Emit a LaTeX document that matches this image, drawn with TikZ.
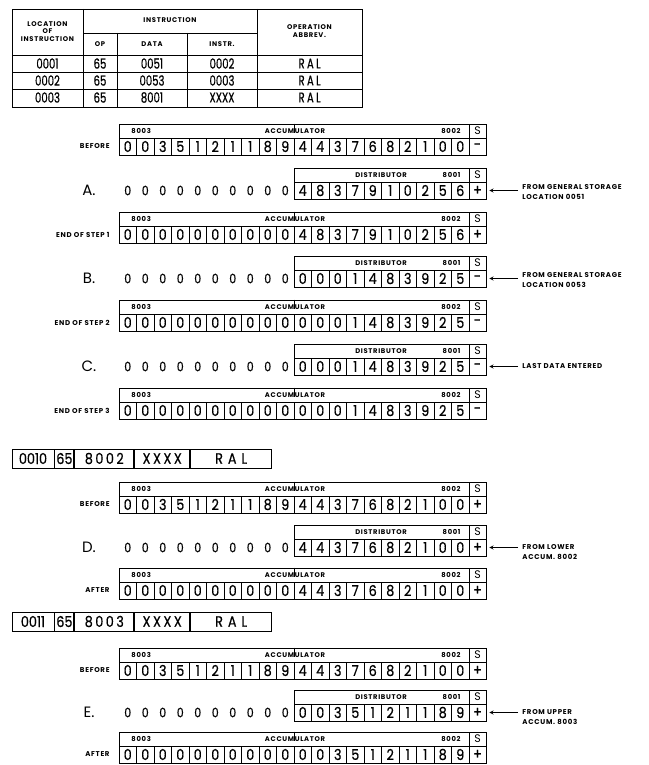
\documentclass[tikz,border=0pt]{standalone}
\usepackage{fontspec}
\setmainfont{Poppins}
\newfontfamily\labelfont{Poppins}[LetterSpace=10]
\newfontfamily\digitfont{Poppins}[FakeStretch=0.85, FakeBold=0.5]
\newfontfamily\narrowfont{Poppins}[FakeStretch=0.72, FakeBold=0.5]
\usetikzlibrary{arrows, positioning}
\tikzstyle{cell} = [
    rectangle,
    draw,
    minimum width=17.5pt,
    minimum height=17pt,
    inner sep=0pt,
    font=\digitfont\fontsize{15}{15}\selectfont
]
\tikzstyle{signcell} = [cell, minimum width=17pt]
\tikzstyle{signhead} = [signcell, minimum height=14pt, font=\fontsize{11}{11}\selectfont]
\tikzstyle{acchead} = [
    rectangle,
    draw,
    minimum width=350pt,
    minimum height=14pt,
    inner sep=0pt
]
\tikzstyle{disthead} = [acchead, minimum width=175pt]
\tikzstyle{headtxt} = [inner sep=0pt, font=\labelfont\bfseries\fontsize{6.8}{6.8}\selectfont]
\tikzstyle{rowlabel} = [anchor=east, inner sep=0pt, font=\labelfont\bfseries\fontsize{7}{7}\selectfont]
\tikzstyle{steplabel} = [inner sep=0pt, font=\fontsize{15}{15}\selectfont]
\tikzstyle{zero} = [inner sep=0pt, font=\digitfont\fontsize{13}{13}\selectfont]
\tikzstyle{sidetext} = [
    anchor=west,
    align=left,
    inner sep=0pt,
    font=\labelfont\bfseries\fontsize{7}{10}\selectfont
]
\tikzstyle{tablehead} = [align=center, inner sep=0pt, font=\labelfont\bfseries\fontsize{6.8}{7.6}\selectfont]
\tikzstyle{tabledata} = [inner sep=0pt, font=\narrowfont\fontsize{14}{14}\selectfont]
\tikzstyle{instr} = [
    rectangle,
    draw,
    minimum height=19pt,
    inner sep=0pt,
    font=\digitfont\fontsize{15}{15}\selectfont
]
\tikzstyle{arrow} = [->, >=stealth, line width=0.8pt]

% accumulator: name, top, label, digits, sign
\newcommand{\accreg}[5]{%
  \node[rowlabel] (#1lab) at (110,#2+22.5) {#3};
  \node[acchead] (#1head) at (294,#2+7) {};
  \node[headtxt, anchor=west] (#1up) at (131,#2+7) {8003};
  \node[headtxt] (#1name) at (295,#2+7.5) {ACCUMULATOR};
  \node[headtxt, anchor=east] (#1low) at (461,#2+7) {8002};
  \draw (#1head.north) -- ++(0,9);
  \node[signhead] (#1shead) at (477.5,#2+7) {S};
  \foreach \d [count=\i] in {#4}
    \node[cell] (#1d\i) at (110.25+17.5*\i,#2+22.5) {\d};
  \node[signcell] (#1sign) at (477.5,#2+22.5) {#5};
}
% distributor: name, top, step, digits, sign
\newcommand{\distreg}[5]{%
  \node[steplabel] (#1step) at (89,#2+22.5) {#3};
  \foreach \i in {1,...,10}
    \node[zero] (#1z\i) at (110.25+17.5*\i,#2+22.5) {0};
  \node[disthead] (#1head) at (381.5,#2+7) {};
  \node[headtxt] (#1name) at (381,#2+7) {DISTRIBUTOR};
  \node[headtxt, anchor=east] (#1low) at (461,#2+7) {8001};
  \node[signhead] (#1shead) at (477.5,#2+7) {S};
  \foreach \d [count=\i] in {#4}
    \node[cell] (#1d\i) at (285.25+17.5*\i,#2+22.5) {\d};
  \node[signcell] (#1sign) at (477.5,#2+22.5) {#5};
}

\begin{document}
\begin{tikzpicture}[x=1pt, y=-1pt, line width=0.9pt]
\useasboundingbox (0,0) rectangle (648,765);

% program table
\draw (12,9) rectangle (362,107);
\draw (83,9) -- (83,107);
\draw (257,9) -- (257,107);
\draw (83,33) -- (257,33);
\draw (117,33) -- (117,107);
\draw (187,33) -- (187,107);
\draw (12,55) -- (362,55);
\draw (12,72) -- (362,72);
\draw (12,89) -- (362,89);

\node[tablehead] (hloc) at (47.5,31.5) {LOCATION\\OF\\INSTRUCTION};
\node[tablehead] (hinstr) at (170,20) {INSTRUCTION};
\node[tablehead] (hop) at (100,44) {OP};
\node[tablehead] (hdata) at (152,44) {DATA};
\node[tablehead] (hnext) at (222,44) {INSTR.};
\node[tablehead] (habbr) at (309.5,31) {OPERATION\\ABBREV.};

\foreach \loc/\data/\nxt [count=\r] in {0001/0051/0002, 0002/0053/0003, 0003/8001/XXXX} {
  \node[tabledata] (loc\r) at (47.5,46.5+17*\r) {\loc};
  \node[tabledata] (op\r) at (100,46.5+17*\r) {65};
  \node[tabledata] (data\r) at (152,46.5+17*\r) {\data};
  \node[tabledata] (next\r) at (222,46.5+17*\r) {\nxt};
  \node[tabledata] (abbr\r) at (309.5,46.5+17*\r) {R\,A\,L};
}

% steps A to C
\accreg{befA}{124}{BEFORE}{0,0,3,5,1,2,1,1,8,9,4,4,3,7,6,8,2,1,0,0}{-}
\distreg{regA}{168}{A.}{4,8,3,7,9,1,0,2,5,6}{+}
\accreg{endA}{212}{END OF STEP 1}{0,0,0,0,0,0,0,0,0,0,4,8,3,7,9,1,0,2,5,6}{+}
\distreg{regB}{256}{B.}{0,0,0,1,4,8,3,9,2,5}{-}
\accreg{endB}{300}{END OF STEP 2}{0,0,0,0,0,0,0,0,0,0,0,0,0,1,4,8,3,9,2,5}{-}
\distreg{regC}{344}{C.}{0,0,0,1,4,8,3,9,2,5}{-}
\accreg{endC}{388}{END OF STEP 3}{0,0,0,0,0,0,0,0,0,0,0,0,0,1,4,8,3,9,2,5}{-}

\node (fromA) [sidetext] at (522,192) {FROM GENERAL STORAGE\\LOCATION 0051};
\node (fromB) [sidetext] at (522,280) {FROM GENERAL STORAGE\\LOCATION 0053};
\node (fromC) [sidetext] at (522,366.5) {LAST DATA ENTERED};
\draw [arrow, shorten <=4pt, shorten >=3pt] (fromA.west |- regAsign) -- (regAsign.east);
\draw [arrow, shorten <=4pt, shorten >=3pt] (fromB.west |- regBsign) -- (regBsign.east);
\draw [arrow, shorten <=4pt, shorten >=3pt] (fromC.west) -- (regCsign.east);

% instruction 0010
\node (i1loc) [instr, minimum width=42pt] at (33,458.5) {0010};
\node (i1op) [instr, minimum width=19pt, right=0pt of i1loc] {65};
\node (i1data) [instr, minimum width=59pt, right=0pt of i1op] {8\,0\,0\,2};
\node (i1next) [instr, minimum width=55pt, right=0pt of i1data] {X\,X\,X\,X};
\node (i1abbr) [instr, minimum width=81pt, right=0pt of i1next] {R\,\,A\,\,L};

% step D
\accreg{befD}{482}{BEFORE}{0,0,3,5,1,2,1,1,8,9,4,4,3,7,6,8,2,1,0,0}{+}
\distreg{regD}{525}{D.}{4,4,3,7,6,8,2,1,0,0}{+}
\accreg{aftD}{568}{AFTER}{0,0,0,0,0,0,0,0,0,0,4,4,3,7,6,8,2,1,0,0}{+}
\node (fromD) [sidetext] at (522,552) {FROM LOWER\\ACCUM. 8002};
\draw [arrow, shorten <=4pt, shorten >=3pt] (fromD.west |- regDsign) -- (regDsign.east);

% instruction 0011
\node (i2loc) [instr, minimum width=42pt] at (33,621.5) {0011};
\node (i2op) [instr, minimum width=19pt, right=0pt of i2loc] {65};
\node (i2data) [instr, minimum width=59pt, right=0pt of i2op] {8\,0\,0\,3};
\node (i2next) [instr, minimum width=55pt, right=0pt of i2data] {X\,X\,X\,X};
\node (i2abbr) [instr, minimum width=81pt, right=0pt of i2next] {R\,\,A\,\,L};

% step E
\accreg{befE}{648}{BEFORE}{0,0,3,5,1,2,1,1,8,9,4,4,3,7,6,8,2,1,0,0}{+}
\distreg{regE}{690}{E.}{0,0,3,5,1,2,1,1,8,9}{+}
\accreg{aftE}{732}{AFTER}{0,0,0,0,0,0,0,0,0,0,0,0,3,5,1,2,1,1,8,9}{+}
\node (fromE) [sidetext] at (522,717) {FROM UPPER\\ACCUM. 8003};
\draw [arrow, shorten <=4pt, shorten >=3pt] (fromE.west |- regEsign) -- (regEsign.east);

\end{tikzpicture}
\end{document}
